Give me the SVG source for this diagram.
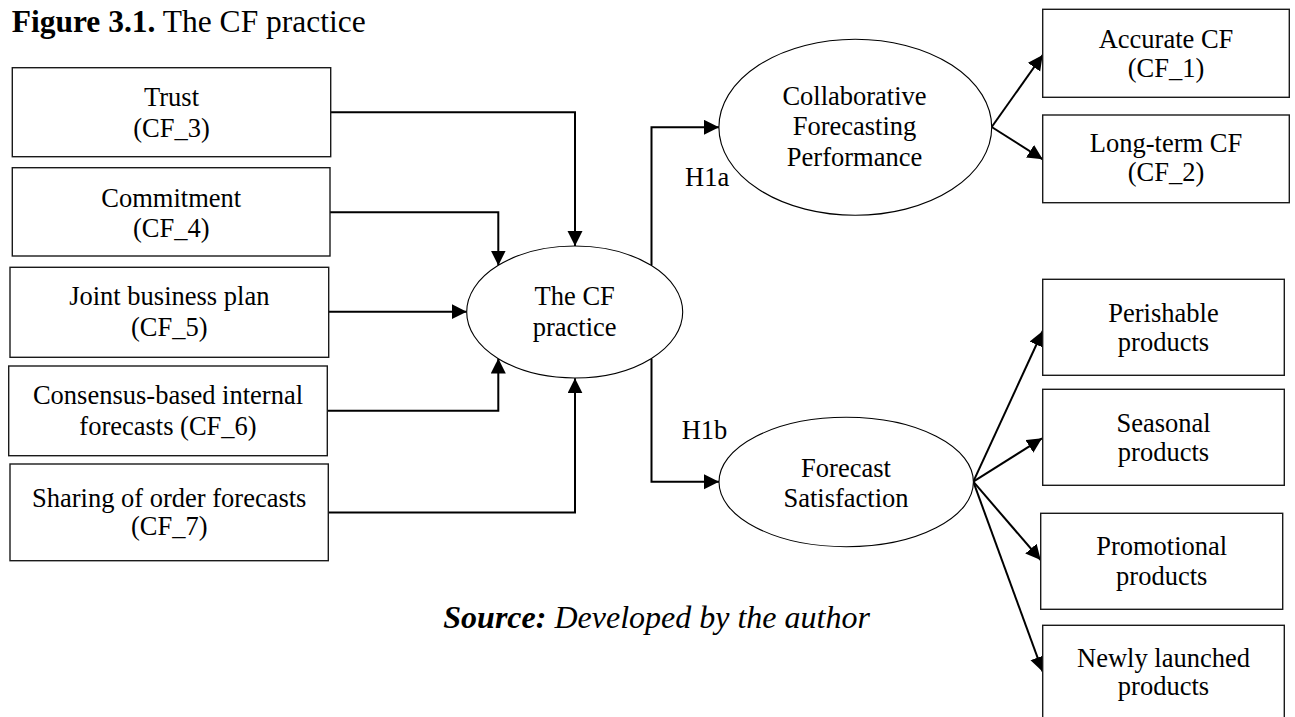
<svg xmlns="http://www.w3.org/2000/svg" width="1295" height="717" viewBox="0 0 1295 717">
<style>
text{font-family:"Liberation Serif","Times New Roman",serif;font-size:26.5px;fill:#000;text-anchor:middle}
.box{fill:#fff;stroke:#1a1a1a;stroke-width:1.4}
.ell{fill:#fff;stroke:#000;stroke-width:1.1}
.con{fill:none;stroke:#000;stroke-width:2;marker-end:url(#ah)}
.lab{text-anchor:start}
</style>
<defs>
<marker id="ah" markerUnits="userSpaceOnUse" markerWidth="16" markerHeight="16" refX="15" refY="7.5" orient="auto">
<path d="M0,0 L15,7.5 L0,15 z" fill="#000"/>
</marker>
</defs>
<rect width="1295" height="717" fill="#fff"/>
<text x="11.7" y="32.3" style="text-anchor:start;font-size:31.5px"><tspan font-weight="bold">Figure 3.1.</tspan> The CF practice</text>

<g id="connectors">
<path class="con" d="M330.7,112.3 H575 V246"/>
<path class="con" d="M330,212.3 H498.3 V265.5"/>
<path class="con" d="M328.7,311.7 H466.7"/>
<path class="con" d="M327.3,410.7 H498.3 V358.5"/>
<path class="con" d="M328.3,512.5 H575 V378.3"/>
<path class="con" d="M651.5,265.3 V127.3 H719"/>
<path class="con" d="M651.5,358.7 V481.7 H719"/>
<path class="con" d="M991.7,127 L1042.7,55"/>
<path class="con" d="M991.7,127 L1042.7,159.3"/>
<path class="con" d="M973.3,481.7 L1042.7,331"/>
<path class="con" d="M973.3,481.7 L1042,438.3"/>
<path class="con" d="M973.3,481.7 L1040.7,560"/>
<path class="con" d="M973.3,481.7 L1042.7,671.7"/>
</g>

<g id="trust"><rect class="box" x="12.3" y="67.7" width="318.4" height="89"/><text x="171.5" y="106">Trust</text><text x="171.5" y="137.3">(CF_3)</text></g>
<g id="commitment"><rect class="box" x="12.3" y="167.7" width="317.7" height="88.3"/><text x="171.2" y="206.7">Commitment</text><text x="171.2" y="237">(CF_4)</text></g>
<g id="joint"><rect class="box" x="10" y="267.3" width="318.7" height="90"/><text x="169.3" y="305">Joint business plan</text><text x="169.3" y="336">(CF_5)</text></g>
<g id="consensus"><rect class="box" x="8.7" y="366" width="318.6" height="89.7"/><text x="168" y="404">Consensus-based internal</text><text x="168" y="435">forecasts (CF_6)</text></g>
<g id="sharing"><rect class="box" x="10" y="464" width="318.3" height="96.7"/><text x="169.2" y="506.7">Sharing of order forecasts</text><text x="169.2" y="535">(CF_7)</text></g>

<g id="cfpractice"><ellipse class="ell" cx="574.7" cy="312" rx="108" ry="66"/><text x="574.7" y="305">The CF</text><text x="574.7" y="336">practice</text></g>

<g id="collab"><ellipse class="ell" cx="855.3" cy="127.3" rx="136.4" ry="88"/><text x="854.5" y="104.5">Collaborative</text><text x="854.5" y="135">Forecasting</text><text x="854.5" y="166">Performance</text></g>
<text class="lab" x="685" y="185.7">H1a</text>
<text class="lab" x="681.7" y="439.3">H1b</text>

<g id="satisfaction"><ellipse class="ell" cx="846.2" cy="482" rx="127.2" ry="64.7"/><text x="846" y="476.7">Forecast</text><text x="846" y="506.7">Satisfaction</text></g>

<g id="accurate"><rect class="box" x="1042.7" y="9.3" width="246.6" height="88"/><text x="1166" y="48.3">Accurate CF</text><text x="1166" y="77">(CF_1)</text></g>
<g id="longterm"><rect class="box" x="1042.7" y="115" width="246.6" height="87.7"/><text x="1166" y="151.7">Long-term CF</text><text x="1166" y="180.5">(CF_2)</text></g>

<g id="perishable"><rect class="box" x="1042.7" y="279.3" width="241.6" height="96"/><text x="1163.5" y="321.7">Perishable</text><text x="1163.5" y="350.7">products</text></g>
<g id="seasonal"><rect class="box" x="1042.7" y="389.3" width="241.6" height="96"/><text x="1163.5" y="431.7">Seasonal</text><text x="1163.5" y="461">products</text></g>
<g id="promotional"><rect class="box" x="1040.7" y="513.3" width="242" height="96"/><text x="1161.7" y="555">Promotional</text><text x="1161.7" y="585">products</text></g>
<g id="newly"><rect class="box" x="1042.7" y="625.3" width="241.6" height="110"/><text x="1163.5" y="666.7">Newly launched</text><text x="1163.5" y="695">products</text></g>

<text x="443.3" y="628.3" style="text-anchor:start;font-size:32px;font-style:italic"><tspan font-weight="bold">Source:</tspan> Developed by the author</text>
</svg>
